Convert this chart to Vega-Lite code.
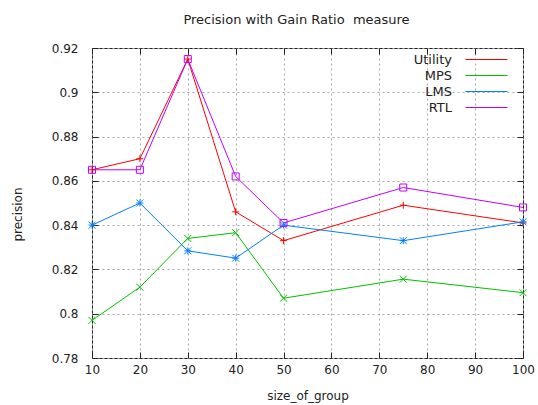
{
  "$schema": "https://vega.github.io/schema/vega-lite/v6.json",
  "width": 431,
  "height": 310,
  "autosize": {"type": "none"},
  "padding": {"left": 92, "top": 48, "right": 15, "bottom": 47},
  "background": "#ffffff",
  "title": {
    "text": "Precision with Gain Ratio\u00a0 measure",
    "font": "DejaVu Sans",
    "fontSize": 13,
    "fontWeight": "normal",
    "color": "#222222",
    "offset": 15,
    "dx": -11
  },
  "config": {
    "view": {"stroke": "#222222", "strokeWidth": 1},
    "axis": {
      "labelFont": "DejaVu Sans",
      "labelFontSize": 12,
      "labelColor": "#222222",
      "labelFlush": false,
      "titleFont": "DejaVu Sans",
      "titleFontSize": 12,
      "titleFontWeight": "normal",
      "titleColor": "#222222",
      "domain": false,
      "tickColor": "#222222",
      "tickSize": -6,
      "gridColor": "#a8a8a8",
      "gridDash": [2, 3],
      "gridOpacity": 1
    },
    "legend": {
      "labelFont": "DejaVu Sans",
      "labelFontSize": 13,
      "labelColor": "#222222"
    }
  },
  "data": {
    "values": [
      {"size_of_group": 10, "series": "Utility", "precision": 0.865},
      {"size_of_group": 20, "series": "Utility", "precision": 0.870},
      {"size_of_group": 30, "series": "Utility", "precision": 0.915},
      {"size_of_group": 40, "series": "Utility", "precision": 0.846},
      {"size_of_group": 50, "series": "Utility", "precision": 0.833},
      {"size_of_group": 75, "series": "Utility", "precision": 0.849},
      {"size_of_group": 100, "series": "Utility", "precision": 0.841},
      {"size_of_group": 10, "series": "MPS", "precision": 0.797},
      {"size_of_group": 20, "series": "MPS", "precision": 0.812},
      {"size_of_group": 30, "series": "MPS", "precision": 0.834},
      {"size_of_group": 40, "series": "MPS", "precision": 0.8366},
      {"size_of_group": 50, "series": "MPS", "precision": 0.807},
      {"size_of_group": 75, "series": "MPS", "precision": 0.8156},
      {"size_of_group": 100, "series": "MPS", "precision": 0.8095},
      {"size_of_group": 10, "series": "LMS", "precision": 0.840},
      {"size_of_group": 20, "series": "LMS", "precision": 0.850},
      {"size_of_group": 30, "series": "LMS", "precision": 0.8284},
      {"size_of_group": 40, "series": "LMS", "precision": 0.8251},
      {"size_of_group": 50, "series": "LMS", "precision": 0.840},
      {"size_of_group": 75, "series": "LMS", "precision": 0.833},
      {"size_of_group": 100, "series": "LMS", "precision": 0.8415},
      {"size_of_group": 10, "series": "RTL", "precision": 0.865},
      {"size_of_group": 20, "series": "RTL", "precision": 0.865},
      {"size_of_group": 30, "series": "RTL", "precision": 0.915},
      {"size_of_group": 40, "series": "RTL", "precision": 0.862},
      {"size_of_group": 50, "series": "RTL", "precision": 0.841},
      {"size_of_group": 75, "series": "RTL", "precision": 0.857},
      {"size_of_group": 100, "series": "RTL", "precision": 0.848}
    ]
  },
  "layer": [
    {
      "mark": {"type": "line", "strokeWidth": 1},
      "encoding": {
        "x": {
          "field": "size_of_group",
          "type": "quantitative",
          "scale": {"domain": [10, 100], "nice": false, "zero": false},
          "axis": {
            "orient": "bottom",
            "title": "size_of_group",
            "values": [10, 20, 30, 40, 50, 60, 70, 80, 90, 100],
            "labelPadding": 12,
            "titlePadding": 15
          }
        },
        "y": {
          "field": "precision",
          "type": "quantitative",
          "scale": {"domain": [0.78, 0.92], "nice": false, "zero": false},
          "axis": {
            "orient": "left",
            "title": "precision",
            "values": [0.78, 0.8, 0.82, 0.84, 0.86, 0.88, 0.9, 0.92],
            "format": ".2~f",
            "labelPadding": 20,
            "titleX": -75,
            "titleY": 166,
            "titleBaseline": "middle",
            "titleAlign": "center"
          }
        },
        "color": {
          "field": "series",
          "type": "nominal",
          "scale": {
            "domain": ["Utility", "MPS", "LMS", "RTL"],
            "range": ["#ff0000", "#00c000", "#0080ff", "#c000ff"]
          }
        }
      }
    },
    {
      "mark": {"type": "point", "filled": false, "opacity": 0},
      "encoding": {
        "x": {"field": "size_of_group", "type": "quantitative", "axis": null},
        "y": {"field": "precision", "type": "quantitative", "axis": null},
        "color": {
          "field": "series",
          "type": "nominal",
          "legend": {
            "title": null,
            "orient": "none",
            "legendX": 388,
            "legendY": 5,
            "rowPadding": 2,
            "labelAlign": "right",
            "labelOffset": -41,
            "symbolType": "M-6,0H6",
            "symbolStrokeWidth": 1,
            "symbolSize": 49,
            "symbolOpacity": 1,
            "encode": {
              "symbols": {
                "update": {
                  "shape": {
                    "signal": "datum.value === 'Utility' ? 'M-6,0H6M0,-1V1' : datum.value === 'MPS' ? 'M-6,0H6M-1,-1L1,1M-1,1L1,-1' : datum.value === 'LMS' ? 'M-6,0H6M0,-1V1M-1,-1L1,1M-1,1L1,-1' : 'M-6,0H6M-1,-1H1V1H-1Z'"
                  },
                  "stroke": {
                    "signal": "datum.value === 'Utility' ? '#ff0000' : datum.value === 'MPS' ? '#00c000' : datum.value === 'LMS' ? '#0080ff' : '#c000ff'"
                  },
                  "fill": {"value": "transparent"},
                  "opacity": {"value": 1}
                }
              }
            }
          }
        }
      }
    },
    {
      "transform": [{"filter": "datum.series === 'Utility'"}],
      "mark": {"type": "point", "shape": "M-1,0H1M0,-1V1", "filled": false, "strokeWidth": 1, "size": 49, "opacity": 1, "color": "#ff0000"},
      "encoding": {
        "x": {
          "field": "size_of_group",
          "type": "quantitative",
          "axis": {
            "orient": "top",
            "title": null,
            "labels": false,
            "grid": false,
            "values": [10, 20, 30, 40, 50, 60, 70, 80, 90, 100]
          }
        },
        "y": {
          "field": "precision",
          "type": "quantitative",
          "axis": {
            "orient": "right",
            "title": null,
            "labels": false,
            "grid": false,
            "values": [0.78, 0.8, 0.82, 0.84, 0.86, 0.88, 0.9, 0.92]
          }
        }
      }
    },
    {
      "transform": [{"filter": "datum.series === 'MPS'"}],
      "mark": {"type": "point", "shape": "M-1,-1L1,1M-1,1L1,-1", "filled": false, "strokeWidth": 1, "size": 49, "opacity": 1, "color": "#00c000"},
      "encoding": {
        "x": {"field": "size_of_group", "type": "quantitative", "axis": null},
        "y": {"field": "precision", "type": "quantitative", "axis": null}
      }
    },
    {
      "transform": [{"filter": "datum.series === 'LMS'"}],
      "mark": {"type": "point", "shape": "M-1,0H1M0,-1V1M-1,-1L1,1M-1,1L1,-1", "filled": false, "strokeWidth": 1, "size": 49, "opacity": 1, "color": "#0080ff"},
      "encoding": {
        "x": {"field": "size_of_group", "type": "quantitative", "axis": null},
        "y": {"field": "precision", "type": "quantitative", "axis": null}
      }
    },
    {
      "transform": [{"filter": "datum.series === 'RTL'"}],
      "mark": {"type": "point", "shape": "M-1,-1H1V1H-1Z", "filled": false, "strokeWidth": 1, "size": 49, "opacity": 1, "color": "#c000ff"},
      "encoding": {
        "x": {"field": "size_of_group", "type": "quantitative", "axis": null},
        "y": {"field": "precision", "type": "quantitative", "axis": null}
      }
    }
  ],
  "resolve": {"axis": {"x": "independent", "y": "independent"}}
}
